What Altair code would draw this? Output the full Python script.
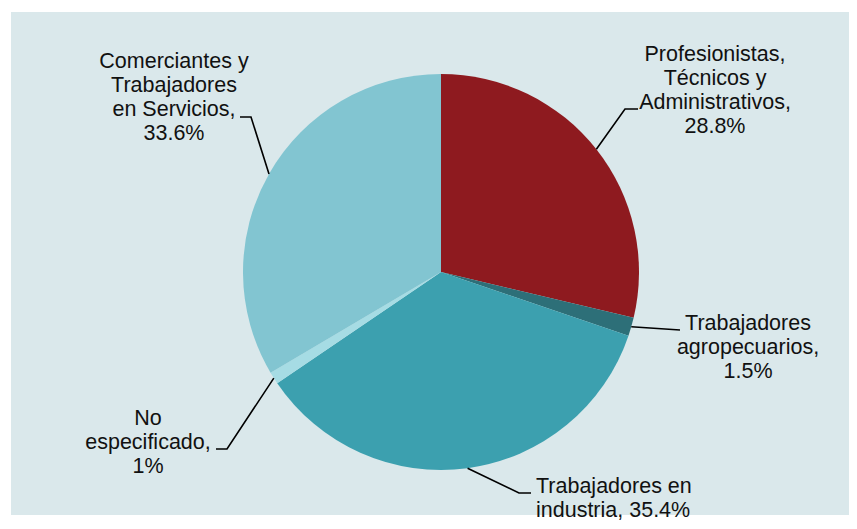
import math
import altair as alt
import pandas as pd

# ---- data ----
categories = [
    "Profesionistas, Técnicos y Administrativos",
    "Trabajadores agropecuarios",
    "Trabajadores en industria",
    "No especificado",
    "Comerciantes y Trabajadores en Servicios",
]
values = [28.8, 1.5, 35.4, 1.0, 33.6]
label_lines = [
    ["Profesionistas,", "Técnicos y", "Administrativos,"],
    ["Trabajadores", "agropecuarios,"],
    ["Trabajadores en", "industria,"],
    ["No", "especificado,"],
    ["Comerciantes y", "Trabajadores", "en Servicios,"],
]
colors = ["#8E1A1F", "#2D6F78", "#3CA0AF", "#A6DCE4", "#82C5D1"]

# ---- layout (pixels inside the plot area) ----
CX, CY, R = 430, 260, 198
label_pos = [(704, 49), (737, 318), (525, 481), (137, 413), (163, 56)]
label_align = ["center", "center", "left", "center", "center"]
elbows = [(614, 97), (669, 318), (508, 481), (216, 437), (240, 105)]
ends = [(627, 97), (669, 318), (520, 481), (205, 437), (229, 105)]

total = sum(values)
pie_df = pd.DataFrame({"cat": categories, "value": values, "idx": range(len(values))})


def fmt(v):
    return f"{v:g}%"


def make_text(i):
    lines = list(label_lines[i])
    if label_align[i] == "left":
        lines[-1] = lines[-1] + " " + fmt(values[i])
    else:
        lines.append(fmt(values[i]))
    return "\n".join(lines)


lab_df = pd.DataFrame({
    "txt": [make_text(i) for i in range(len(values))],
    "lx": [p[0] for p in label_pos],
    "ly": [p[1] for p in label_pos],
    "align": label_align,
})

# leader lines start at the slice mid-angle on the rim
rows = []
cum = 0.0
for i, v in enumerate(values):
    a = (cum + v / 2) / total * 2 * math.pi
    cum += v
    sx, sy = CX + R * math.sin(a), CY - R * math.cos(a)
    pts = [(sx, sy), elbows[i], ends[i]]
    for k, (px, py) in enumerate(pts):
        rows.append({"g": i, "o": k, "px": px, "py": py})
lead_df = pd.DataFrame(rows)

pie = alt.Chart(pie_df).mark_arc().encode(
    theta=alt.Theta("value:Q", stack=True),
    color=alt.Color("cat:N", scale=alt.Scale(domain=categories, range=colors), legend=None, sort=None),
    order=alt.Order("idx:Q"),
    x=alt.value(CX),
    y=alt.value(CY),
    radius=alt.value(R),
)

leaders = alt.Chart(lead_df).mark_line(color="#000000", strokeWidth=1.6).encode(
    x=alt.X("px:Q", scale=None, axis=None),
    y=alt.Y("py:Q", scale=None, axis=None),
    detail="g:N",
    order="o:Q",
)

text_common = dict(font="Liberation Sans", fontSize=21.5, lineHeight=24, lineBreak="\n",
                   baseline="alphabetic", color="#111111")
txt_c = alt.Chart(lab_df).transform_filter(alt.datum.align == "center").mark_text(
    align="center", **text_common
).encode(
    x=alt.X("lx:Q", scale=None, axis=None),
    y=alt.Y("ly:Q", scale=None, axis=None),
    text="txt:N",
)
txt_l = alt.Chart(lab_df).transform_filter(alt.datum.align == "left").mark_text(
    align="left", **text_common
).encode(
    x=alt.X("lx:Q", scale=None, axis=None),
    y=alt.Y("ly:Q", scale=None, axis=None),
    text="txt:N",
)

chart = alt.layer(pie, leaders, txt_c, txt_l).properties(
    width=838, height=503,
    padding={"left": 3, "top": 4, "right": 0, "bottom": 0},
    background="#FFFFFF",
).configure_view(fill="#DAE8EB", strokeWidth=0)

chart.save("out.html", embed_options={"renderer": "svg", "actions": False})
